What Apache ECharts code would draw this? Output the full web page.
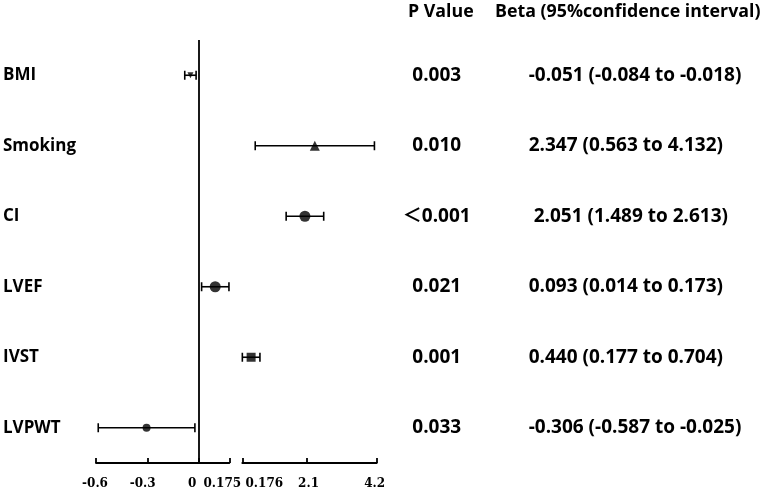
<!DOCTYPE html>
<html>
<head>
<meta charset="utf-8">
<script src="https://cdn.jsdelivr.net/npm/echarts@6/dist/echarts.min.js"></script>
<style>html,body{margin:0;padding:0;background:#fff}#c{width:762px;height:490px}</style>
</head>
<body>
<div id="c"></div>
<script>
// ---- data ----
var categories = ["BMI", "Smoking", "CI", "LVEF", "IVST", "LVPWT"];
var beta   = [-0.051, 2.347, 2.051, 0.093, 0.440, -0.306];
var lower  = [-0.084, 0.563, 1.489, 0.014, 0.177, -0.587];
var upper  = [-0.018, 4.132, 2.613, 0.173, 0.704, -0.025];
var pValues = ["0.003", "0.010", "＜0.001", "0.021", "0.001", "0.033"];
var betaText = ["-0.051 (-0.084 to -0.018)", "2.347 (0.563 to 4.132)", " 2.051 (1.489 to 2.613)",
                "0.093 (0.014 to 0.173)", "0.440 (0.177 to 0.704)", "-0.306 (-0.587 to -0.025)"];
var symbols = ["triangle", "triangle", "circle", "circle", "rect", "circle"];
var leftTicks = [-0.6, -0.3, 0, 0.175];
var leftTickLabels = ["-0.6", "-0.3", "0", "0.175"];
var rightTicks = [0.176, 2.1, 4.2];
var rightTickLabels = ["0.176", "2.1", "4.2"];
var breakLow = 0.175, breakHigh = 0.176;

// ---- styles (not data) ----
var symSize = [6, 10, 11, 11, 9, 8];
var symRot = [180, 0, 0, 0, 0, 0];
var leftLabelShift = [-1, -5, -7, -7];
var rightLabelShift = [22, 2, -2];
var txtFont = '"Open Sans", Lato, "Noto Sans CJK SC", sans-serif';
var ink = '#000';

function pick(side) {
  var rows = [];
  for (var i = 0; i < categories.length; i++) {
    var onLeft = upper[i] <= breakLow;
    if ((side === 'left') === onLeft) rows.push(i);
  }
  return rows;
}
var leftRows = pick('left'), rightRows = pick('right');

function errData(rows) {
  return rows.map(function (i) { return [lower[i], upper[i], i]; });
}
function ptData(rows) {
  return rows.map(function (i) {
    return { value: [beta[i], i], symbol: symbols[i], symbolSize: symSize[i], symbolRotate: symRot[i] };
  });
}
function renderErr(params, api) {
  var y = api.value(2);
  var p1 = api.coord([api.value(0), y]);
  var p2 = api.coord([api.value(1), y]);
  var h = 4.5;
  var st = { stroke: ink, lineWidth: 1.6 };
  return {
    type: 'group',
    children: [
      { type: 'line', shape: { x1: p1[0], y1: p1[1], x2: p2[0], y2: p2[1] }, style: st },
      { type: 'line', shape: { x1: p1[0], y1: p1[1] - h, x2: p1[0], y2: p1[1] + h }, style: st },
      { type: 'line', shape: { x1: p2[0], y1: p2[1] - h, x2: p2[0], y2: p2[1] + h }, style: st }
    ]
  };
}

function xAxisCfg(gridIndex, min, max, ticks, labels, shifts) {
  var rich = {};
  shifts.forEach(function (s, k) {
    rich['s' + k] = { fontFamily: '"DejaVu Serif", serif', fontWeight: 'bold', fontSize: 12, color: ink,
      padding: s >= 0 ? [0, 0, 0, 2 * s] : [0, -2 * s, 0, 0] };
  });
  return {
    type: 'value', gridIndex: gridIndex, min: min, max: max,
    splitLine: { show: false },
    axisLine: { show: true, onZero: false, lineStyle: { color: ink, width: 1.8 } },
    axisTick: { show: true, inside: true, length: 5, customValues: ticks, lineStyle: { color: ink, width: 1.8 } },
    axisLabel: { customValues: ticks, showMinLabel: true, showMaxLabel: true, margin: 15,
      fontFamily: '"DejaVu Serif", serif', fontWeight: 'bold', fontSize: 12, color: ink, rich: rich,
      formatter: function (v) {
        var k = -1;
        for (var j = 0; j < ticks.length; j++) if (Math.abs(ticks[j] - v) < 1e-9) k = j;
        return k >= 0 ? '{s' + k + '|' + labels[k] + '}' : '';
      } }
  };
}

var chart = echarts.init(document.getElementById('c'), null, { renderer: 'canvas' });
var headStyle = { fontFamily: txtFont, fontWeight: 'bold', fontSize: 17.8, color: ink };
var numStyle = { fontFamily: txtFont, fontWeight: 'bold', fontSize: 19, color: ink };
var option = {
  animation: false,
  backgroundColor: '#fff',
  title: [
    { text: 'P Value', left: 408, top: 3, padding: 0, textStyle: headStyle },
    { text: 'Beta (95%confidence interval)', left: 495, top: 3, padding: 0, textStyle: headStyle }
  ],
  grid: [
    { left: 95.7, width: 133.6, top: 40, bottom: 27 },
    { left: 242.3, width: 134.4, top: 40, bottom: 27 }
  ],
  xAxis: [
    xAxisCfg(0, -0.6, breakLow, leftTicks, leftTickLabels, leftLabelShift),
    xAxisCfg(1, breakHigh, 4.2, rightTicks, rightTickLabels, rightLabelShift)
  ],
  yAxis: [
    { type: 'category', gridIndex: 0, data: categories, inverse: true,
      axisLine: { show: false }, axisTick: { show: false },
      axisLabel: { align: 'left', margin: 93, fontFamily: txtFont, fontWeight: 'bold', fontSize: 17, color: ink } },
    { type: 'category', gridIndex: 1, data: categories, inverse: true,
      axisLine: { show: false }, axisTick: { show: false }, axisLabel: { show: false } },
    { type: 'category', gridIndex: 1, data: pValues, inverse: true, position: 'right',
      axisLine: { show: false }, axisTick: { show: false },
      axisLabel: Object.assign({ align: 'center', margin: 60 }, numStyle) },
    { type: 'category', gridIndex: 1, data: betaText, inverse: true, position: 'right',
      axisLine: { show: false }, axisTick: { show: false },
      axisLabel: Object.assign({ align: 'left', margin: 152 }, numStyle) }
  ],
  series: [
    { type: 'custom', xAxisIndex: 0, yAxisIndex: 0, data: errData(leftRows), renderItem: renderErr,
      encode: { x: [0, 1], y: 2 } },
    { type: 'custom', xAxisIndex: 1, yAxisIndex: 1, data: errData(rightRows), renderItem: renderErr,
      encode: { x: [0, 1], y: 2 } },
    { type: 'scatter', xAxisIndex: 0, yAxisIndex: 0, data: ptData(leftRows), itemStyle: { color: ink }, z: 5,
      markLine: { silent: true, symbol: 'none', label: { show: false },
        lineStyle: { color: ink, width: 1.8, type: 'solid' }, data: [{ xAxis: 0 }] } },
    { type: 'scatter', xAxisIndex: 1, yAxisIndex: 1, data: ptData(rightRows), itemStyle: { color: ink }, z: 5 }
  ]
};
chart.setOption(option);
</script>
</body>
</html>
